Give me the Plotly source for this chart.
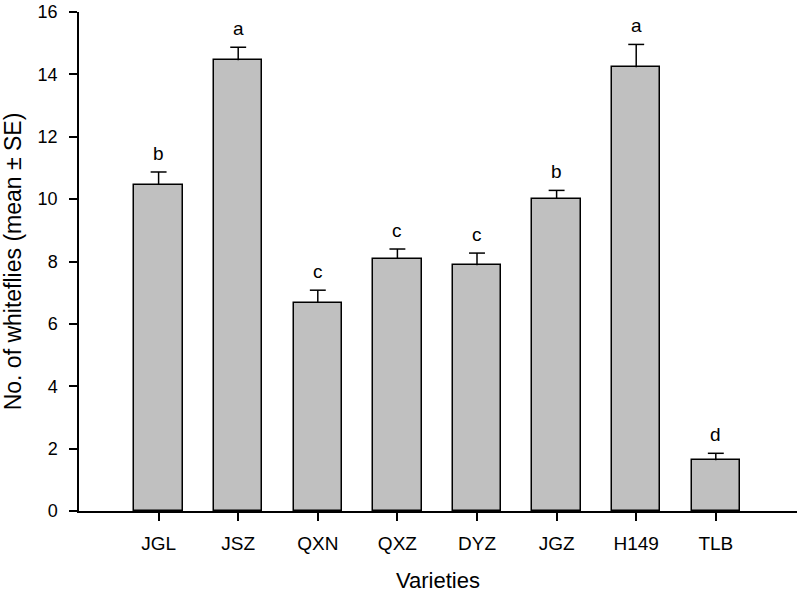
import plotly.graph_objects as go

varieties = ["JGL", "JSZ", "QXN", "QXZ", "DYZ", "JGZ", "H149", "TLB"]
means = [10.46, 14.45, 6.67, 8.08, 7.88, 10.02, 14.23, 1.63]
se = [0.41, 0.42, 0.41, 0.32, 0.39, 0.26, 0.73, 0.22]
letters = ["b", "a", "c", "c", "c", "b", "a", "d"]

FONT = "Liberation Sans, Arial, sans-serif"
CAP = 0.1  # half width of the error-bar cap, in category units

fig = go.Figure()
fig.add_trace(go.Bar(
    x=list(range(len(varieties))),
    y=means,
    width=0.61,
    marker=dict(color="#c0c0c0", line=dict(color="#000000", width=1.5)),
    showlegend=False,
))

# upper-only error bars drawn from the data
ex, ey = [], []
for i, (m, s) in enumerate(zip(means, se)):
    ex += [i, i, None, i - CAP, i + CAP, None]
    ey += [m, m + s, None, m + s, m + s, None]
fig.add_trace(go.Scatter(x=ex, y=ey, mode="lines",
                         line=dict(color="#000", width=1.5),
                         showlegend=False, hoverinfo="skip"))

for i, (m, s, t) in enumerate(zip(means, se, letters)):
    fig.add_annotation(x=i, y=m + s, text=t, showarrow=False, yanchor="bottom",
                       yshift=6, font=dict(family=FONT, size=19, color="#000"))

fig.update_layout(
    width=799, height=594,
    margin=dict(l=79, r=2, t=10, b=83),
    plot_bgcolor="white", paper_bgcolor="white",
    font=dict(family=FONT, color="#000"),
    bargap=0,
)
fig.update_xaxes(
    range=[-1, 8.02],
    tickvals=list(range(len(varieties))), ticktext=varieties,
    showline=True, linecolor="#000", linewidth=1.5,
    ticks="outside", ticklen=8, tickwidth=1.5, tickcolor="#000",
    tickfont=dict(family=FONT, size=19), ticklabelstandoff=6,
    showgrid=False, zeroline=False,
    title=dict(text="Varieties", font=dict(family=FONT, size=22), standoff=20),
)
fig.update_yaxes(
    range=[0, 16], tickvals=[0, 2, 4, 6, 8, 10, 12, 14, 16],
    showline=True, linecolor="#000", linewidth=1.5,
    ticks="outside", ticklen=8, tickwidth=1.5, tickcolor="#000",
    tickfont=dict(family=FONT, size=18), ticklabelstandoff=8,
    showgrid=False, zeroline=False,
    title=dict(text="No. of whiteflies (mean ± SE)", font=dict(family=FONT, size=23), standoff=14),
)

fig.write_html("out.html", config={"displayModeBar": False},
               post_script="document.body.style.margin='0';")
